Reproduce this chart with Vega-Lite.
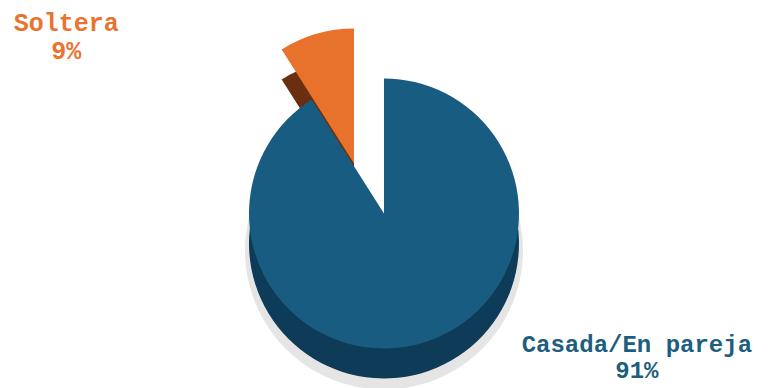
{
  "$schema": "https://vega.github.io/schema/vega-lite/v6.json",
  "width": 768,
  "height": 388,
  "autosize": {"type": "fit", "contains": "padding"},
  "background": "white",
  "view": {"stroke": null},
  "data": {"values": [
    {"estado": "Casada/En pareja", "share": 0.91},
    {"estado": "Soltera", "share": 0.09}
  ]},
  "encoding": {
    "theta": {"field": "share", "type": "quantitative", "stack": true, "sort": "ascending"},
    "order": {"field": "estado", "type": "nominal", "sort": "ascending"}
  },
  "layer": [
    {
      "mark": {"type": "arc", "radius": 139, "yOffset": 58, "fill": "#000000", "fillOpacity": 0.10},
      "encoding": {"opacity": {"condition": {"test": "datum.estado != 'Soltera'", "value": 1}, "value": 0}}
    },
    {
      "mark": {"type": "arc", "radius": 135, "xOffset": -30, "yOffset": 1, "fill": "#6a2f10"},
      "encoding": {"opacity": {"condition": {"test": "datum.estado == 'Soltera'", "value": 1}, "value": 0}}
    },
    {
      "mark": {"type": "arc", "radius": 135, "xOffset": -30, "yOffset": -29, "fill": "#e8712c"},
      "encoding": {"opacity": {"condition": {"test": "datum.estado == 'Soltera'", "value": 1}, "value": 0}}
    },
    {
      "mark": {"type": "arc", "radius": 135, "yOffset": 51, "fill": "#0e3b57"},
      "encoding": {"opacity": {"condition": {"test": "datum.estado != 'Soltera'", "value": 1}, "value": 0}}
    },
    {
      "mark": {"type": "arc", "radius": 135, "yOffset": 21, "fill": "#195c82"},
      "encoding": {"opacity": {"condition": {"test": "datum.estado != 'Soltera'", "value": 1}, "value": 0}}
    },
    {
      "mark": {"type": "text", "radius": 150, "dx": -276, "dy": -25, "font": "Liberation Mono", "fontWeight": "bold", "fontSize": 25, "fill": "#e8742f", "align": "center", "baseline": "middle"},
      "encoding": {
        "text": {"field": "estado"},
        "opacity": {"condition": {"test": "datum.estado == 'Soltera'", "value": 1}, "value": 0}
      }
    },
    {
      "mark": {"type": "text", "radius": 150, "dx": -276, "dy": 3, "font": "Liberation Mono", "fontWeight": "bold", "fontSize": 25, "fill": "#e8742f", "align": "center", "baseline": "middle"},
      "encoding": {
        "text": {"field": "share", "format": ".0%"},
        "opacity": {"condition": {"test": "datum.estado == 'Soltera'", "value": 1}, "value": 0}
      }
    },
    {
      "mark": {"type": "text", "radius": 150, "dx": 211, "dy": 8, "font": "Liberation Mono", "fontWeight": "bold", "fontSize": 24, "fill": "#1d5e80", "align": "center", "baseline": "middle"},
      "encoding": {
        "text": {"field": "estado"},
        "opacity": {"condition": {"test": "datum.estado != 'Soltera'", "value": 1}, "value": 0}
      }
    },
    {
      "mark": {"type": "text", "radius": 150, "dx": 211, "dy": 34, "font": "Liberation Mono", "fontWeight": "bold", "fontSize": 24, "fill": "#1d5e80", "align": "center", "baseline": "middle"},
      "encoding": {
        "text": {"field": "share", "format": ".0%"},
        "opacity": {"condition": {"test": "datum.estado != 'Soltera'", "value": 1}, "value": 0}
      }
    }
  ]
}
